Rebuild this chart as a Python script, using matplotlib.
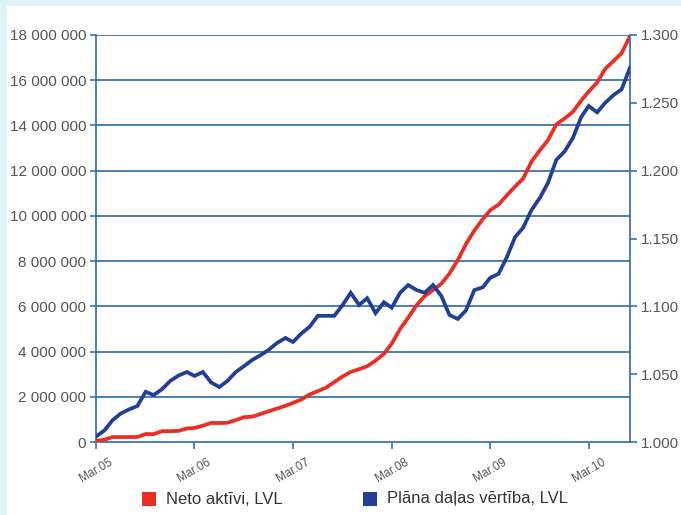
import matplotlib
matplotlib.use("Agg")
import matplotlib.pyplot as plt
from matplotlib.patches import Rectangle
import pandas as pd

# ---------------------------------------------- DATA ----------------------------------------------#
months = pd.date_range("2005-03-01", periods=66, freq="MS")

# Neto aktivi, LVL (left axis)
net_assets = [
    0.05, 0.10, 0.22, 0.22, 0.22, 0.22, 0.35, 0.35, 0.48, 0.48, 0.49, 0.60,
    0.62, 0.72, 0.84, 0.84, 0.85, 0.97, 1.10, 1.12, 1.24, 1.36, 1.48, 1.60,
    1.73, 1.88, 2.10, 2.25, 2.40, 2.65, 2.90, 3.10, 3.22, 3.35, 3.60, 3.90,
    4.35, 5.00, 5.50, 6.05, 6.45, 6.72, 7.00, 7.45, 8.05, 8.75, 9.35, 9.85,
    10.25, 10.50, 10.90, 11.30, 11.65, 12.40, 12.90, 13.35, 14.05, 14.30, 14.60, 15.10,
    15.50, 15.90, 16.50, 16.85, 17.20, 17.95,
]
net_assets = [v * 1e6 for v in net_assets]

# Plana dalas vertiba, LVL (right axis)
unit_value = [
    1.004, 1.0085, 1.016, 1.021, 1.024, 1.0265, 1.037, 1.0346, 1.039, 1.045, 1.049, 1.0516,
    1.0487, 1.0516, 1.044, 1.0405, 1.045, 1.0516, 1.056, 1.0605, 1.064, 1.068, 1.073, 1.0767,
    1.0737, 1.080, 1.0848, 1.093, 1.093, 1.093, 1.101, 1.110, 1.101, 1.106, 1.095, 1.103,
    1.099, 1.110, 1.1157, 1.112, 1.110, 1.1157, 1.1076, 1.0936, 1.0907, 1.097, 1.112, 1.114,
    1.121, 1.124, 1.136, 1.151, 1.158, 1.171, 1.180, 1.191, 1.208, 1.214, 1.224, 1.2395,
    1.2477, 1.243, 1.250, 1.2557, 1.260, 1.276,
]

left_ticks = list(range(0, 18000001, 2000000))
right_ticks = [1.000, 1.050, 1.100, 1.150, 1.200, 1.250, 1.300]
year_ticks = pd.date_range("2005-03-01", periods=6, freq="12MS")
year_labels = ["Mar.05", "Mar.06", "Mar.07", "Mar.08", "Mar.09", "Mar.10"]

RED = "#ec2d24"
BLUE = "#213f98"
GRID = "#1d5b98"
SPINE = "#3a74b0"
TXT = "#555555"

plt.rcParams["font.family"] = ["Liberation Sans", "DejaVu Sans"]

fig = plt.figure(figsize=(6.81, 5.15), dpi=100)
fig.patch.set_facecolor("#e1f3fa")
fig.add_artist(Rectangle((7 / 681, 0), 1, 1 - 6 / 515, transform=fig.transFigure,
                         facecolor="white", edgecolor="none", zorder=-10))

ax = fig.add_axes([96 / 681, 1 - 442 / 515, (630 - 96) / 681, (442 - 35) / 515])
ax.set_facecolor("none")
ax2 = ax.twinx()

ax.plot(months, net_assets, color=RED, lw=2.7, solid_joinstyle="miter", zorder=3)
ax2.plot(months, unit_value, color=BLUE, lw=2.7, solid_joinstyle="miter", zorder=3)

ax.set_xlim(months[0], months[-1])
ax.set_ylim(0, 18000000)
ax2.set_ylim(1.0, 1.3)

ax.set_yticks(left_ticks)
ax.set_yticklabels([f"{v:,}".replace(",", " ") for v in left_ticks])
ax2.set_yticks(right_ticks)
ax2.set_yticklabels([f"{v:.3f}" for v in right_ticks])
ax.set_xticks(year_ticks)
ax.set_xticklabels(year_labels, rotation=30, ha="center", va="top")

for v in left_ticks[1:]:
    ax.axhline(v, color=GRID, lw=1.1, zorder=1)

for a in (ax, ax2):
    a.spines["top"].set_visible(False)
    for s in ("left", "right", "bottom"):
        a.spines[s].set_color(SPINE)
        a.spines[s].set_linewidth(1.3)
ax.spines["right"].set_visible(False)
ax2.spines["left"].set_visible(False)
ax2.spines["bottom"].set_visible(False)

ax.tick_params(axis="y", direction="out", length=4, width=1.2, color=SPINE,
               labelsize=11, labelcolor=TXT, pad=3)
ax.tick_params(axis="x", direction="out", length=5, width=1.2, color=SPINE,
               labelsize=8.5, labelcolor=TXT, pad=5)
ax2.tick_params(axis="y", direction="out", length=5, width=1.2, color=SPINE,
                labelsize=11, labelcolor=TXT, pad=3)

# legend
fig.patches.append(Rectangle((142 / 681, 1 - 506 / 515), 14 / 681, 14 / 515,
                             transform=fig.transFigure, facecolor=RED, edgecolor="none"))
fig.text(166 / 681, 1 - 499 / 515, "Neto aktīvi, LVL", fontsize=12, color="#333333",
         va="center", ha="left")
fig.patches.append(Rectangle((363 / 681, 1 - 506 / 515), 14 / 681, 14 / 515,
                             transform=fig.transFigure, facecolor=BLUE, edgecolor="none"))
fig.text(387 / 681, 1 - 499 / 515, "Plāna daļas vērtība, LVL", fontsize=12, color="#333333",
         va="center", ha="left")

fig.savefig("out.png", dpi=100)
